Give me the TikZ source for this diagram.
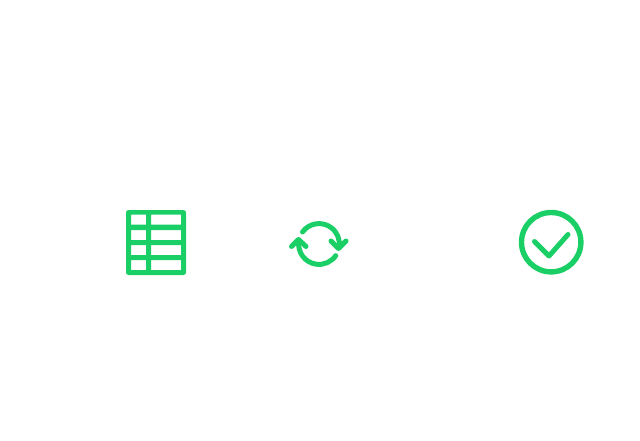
\documentclass[tikz,border=0pt]{standalone}
\definecolor{icongreen}{RGB}{26,207,102}
\tikzset{
  iconline/.style={draw=icongreen,line width=5pt,line cap=round,line join=round},
  iconfill/.style={fill=icongreen,even odd rule}
}
\begin{document}
\begin{tikzpicture}[x=1pt,y=1pt]
\useasboundingbox (0,0) rectangle (640,440);
% table icon
\fill[iconfill]
  [rounded corners=2.5pt] (126,165) rectangle (186,230)
  [sharp corners]
  (131,215.3) rectangle (146,225.3) (151,215.3) rectangle (181,225.3)
  (131,200) rectangle (146,210) (151,200) rectangle (181,210)
  (131,185) rectangle (146,195) (151,185) rectangle (181,195)
  (131,170) rectangle (146,180) (151,170) rectangle (181,180);
% sync icon
\draw[iconline] (319,196) ++(144:20.4) arc[start angle=144,end angle=-9,radius=20.4];
\draw[iconline] (319,196) ++(172:20.4) arc[start angle=172,end angle=325,radius=20.4];
\draw[iconline] (331,199) -- (338.5,191.5) -- (346,199);
\draw[iconline] (291.5,193.5) -- (298.5,200.5) -- (306,193.5);
% check icon
\draw[draw=icongreen,line width=5.4pt] (551.2,197.8) circle[radius=29.7];
\draw[iconline] (534.5,198.5) -- (549,184) -- (568,205.5);
\end{tikzpicture}
\end{document}
